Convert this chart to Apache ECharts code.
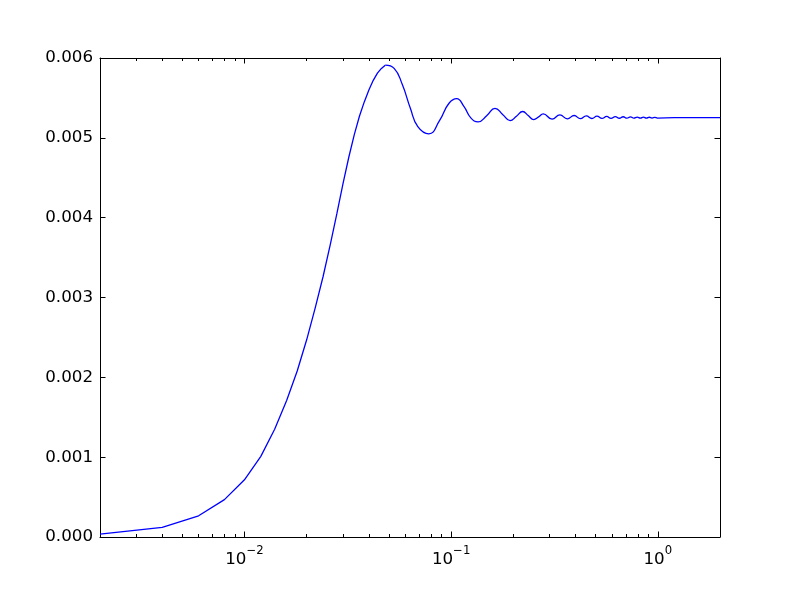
<!DOCTYPE html>
<html><head><meta charset="utf-8">
<script src="https://cdn.jsdelivr.net/npm/echarts@6/dist/echarts.min.js"></script>
<style>html,body{margin:0;padding:0;background:#fff}#c{width:800px;height:597px}</style>
</head><body><div id="c"></div>
<script>
// rising part (straight segments, sampled every 0.002)
const riseX = [0.002,0.004,0.006,0.008,0.010,0.012,0.014,0.016,0.018,0.020,0.022,0.024,0.026,0.028,0.030,0.032,0.034,0.036,0.038,0.040,0.042,0.044,0.046,0.048];
const riseY = [0.000037,0.000120,0.000266,0.000468,0.000717,0.001010,0.001350,0.001710,0.002080,0.002470,0.002870,0.003260,0.003660,0.004050,0.004430,0.004760,0.005040,0.005270,0.005450,0.005600,0.005720,0.005810,0.005870,0.005910];
// damped oscillation part (peaks, troughs and crossings)
const waveX = [0.048,0.053,0.058,0.0635,0.069,0.078,0.088,0.0975,0.1064,0.1155,0.1245,0.135,0.149,0.163,0.178,0.193,0.207,0.222,0.236,0.251,0.265,0.279,0.308,0.336,0.365,0.394,0.422,0.451,0.480,0.508,0.537,0.566,0.594,0.623,0.652,0.680,0.709,0.738,0.766,0.795,0.824,0.852,0.881,0.910,0.938,0.967,0.996,1.2,1.5,2.0];
const waveY = [0.005910,0.005870,0.005670,0.005370,0.005140,0.005050,0.005220,0.005430,0.005490,0.005390,0.005250,0.005200,0.005280,0.005370,0.005290,0.005215,0.005270,0.005330,0.005280,0.005228,0.005262,0.005300,0.005234,0.005287,0.005238,0.005280,0.005240,0.005275,0.005242,0.005271,0.005243,0.005268,0.005244,0.005266,0.005245,0.005264,0.005246,0.005262,0.005246,0.005260,0.005247,0.005259,0.005247,0.005258,0.005248,0.005257,0.005248,0.005252,0.005252,0.005252];
const yTicks = [0,0.001,0.002,0.003,0.004,0.005,0.006];
const xMajorTicks = [0.01,0.1,1];
const xMinorTicks = [0.002,0.003,0.004,0.005,0.006,0.007,0.008,0.009,0.02,0.03,0.04,0.05,0.06,0.07,0.08,0.09,0.2,0.3,0.4,0.5,0.6,0.7,0.8,0.9,2];

const FONT = 'DejaVu Sans';
const black = '#000';
function xAx(pos, ticks, len, showLine, showLabel) {
  return {
    type: 'log', logBase: 10, min: 0.002, max: 2, position: pos,
    axisLine: {show: showLine, onZero: false, lineStyle: {color: black, width: 1}},
    axisTick: {show: true, inside: true, length: len, customValues: ticks, lineStyle: {color: black, width: 1}},
    minorTick: {show: false}, splitLine: {show: false},
    axisLabel: {
      show: showLabel, customValues: xMajorTicks, margin: 8,
      formatter: function (v) {
        const e = Math.round(Math.log10(v));
        const s = e < 0 ? '\u2212' + (-e) : '' + e;
        return '{b|10}{s|' + s + '}';
      },
      rich: {
        b: {fontFamily: FONT, fontSize: 16.7, color: black, verticalAlign: 'bottom', padding: [6, 0, 0, 0]},
        s: {fontFamily: FONT, fontSize: 11.7, color: black, verticalAlign: 'top'}
      }
    }
  };
}
function yAx(pos, showLabel) {
  return {
    type: 'value', min: 0, max: 0.006, interval: 0.001, position: pos,
    axisLine: {show: true, onZero: false, lineStyle: {color: black, width: 1}},
    axisTick: {show: true, inside: true, length: 5.5, customValues: yTicks, lineStyle: {color: black, width: 1}},
    splitLine: {show: false},
    axisLabel: {show: showLabel, margin: 7, fontFamily: FONT, fontSize: 16.7, color: black,
      customValues: yTicks, formatter: v => v.toFixed(3)}
  };
}
const chart = echarts.init(document.getElementById('c'), null, {renderer: 'canvas'});
chart.setOption({
  animation: false,
  backgroundColor: '#fff',
  grid: {left: 100, right: 80, top: 58, bottom: 60, containLabel: false},
  xAxis: [xAx('bottom', xMajorTicks, 5.5, true, true), xAx('bottom', xMinorTicks, 3, false, false),
          xAx('top', xMajorTicks, 5.5, true, false), xAx('top', xMinorTicks, 3, false, false)],
  yAxis: [yAx('left', true), yAx('right', false)],
  series: [
    {type: 'line', xAxisIndex: 0, yAxisIndex: 0, showSymbol: false, smooth: false,
     lineStyle: {color: '#0000ff', width: 1.3}, data: riseX.map((x, i) => [x, riseY[i]])},
    {type: 'line', xAxisIndex: 0, yAxisIndex: 0, showSymbol: false, smooth: 0.5,
     lineStyle: {color: '#0000ff', width: 1.3}, data: waveX.map((x, i) => [x, waveY[i]])}
  ]
});
</script></body></html>
